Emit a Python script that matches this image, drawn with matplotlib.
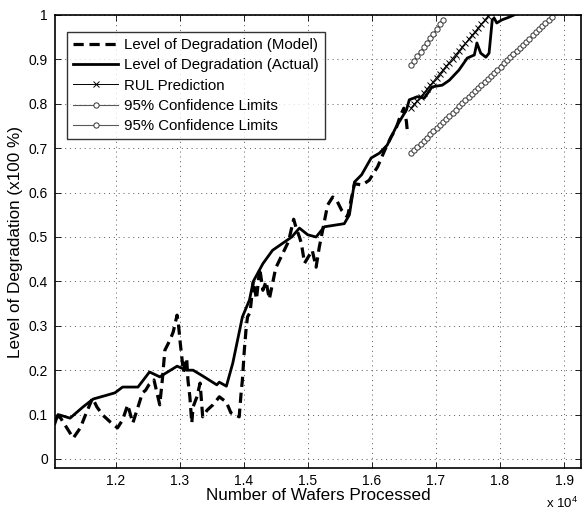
import matplotlib
matplotlib.use('Agg')
import matplotlib.pyplot as plt
from matplotlib.ticker import FixedLocator

plt.rcParams['font.family'] = ['Liberation Sans', 'DejaVu Sans']
plt.rcParams['mathtext.fontset'] = 'custom'
plt.rcParams['mathtext.rm'] = 'Liberation Sans'

# ---- data ----
actual_x = [11055, 11100, 11130, 11290, 11490, 11650, 11870, 11990, 12110, 12350,
            12530, 12690, 12960, 13110, 13210, 13360, 13580, 13620, 13730, 13830,
            13980, 14090, 14150, 14300, 14450, 14550, 14650, 14750, 14870, 15000,
            15130, 15260, 15570, 15650, 15730, 15840, 15990, 16120, 16240, 16380,
            16540, 16585, 16710, 16820, 16940, 17100, 17210, 17360, 17490, 17600,
            17640, 17700, 17780, 17830, 17880, 17910, 17950, 18030, 18140, 18220]
actual_y = [0.080, 0.100, 0.099, 0.092, 0.117, 0.135, 0.144, 0.149, 0.162, 0.162,
            0.196, 0.185, 0.209, 0.200, 0.200, 0.187, 0.167, 0.173, 0.164, 0.216,
            0.320, 0.358, 0.400, 0.440, 0.470, 0.480, 0.490, 0.500, 0.520, 0.505,
            0.500, 0.523, 0.530, 0.550, 0.624, 0.640, 0.678, 0.689, 0.707, 0.748,
            0.786, 0.809, 0.816, 0.813, 0.838, 0.842, 0.853, 0.876, 0.903, 0.910,
            0.937, 0.914, 0.905, 0.914, 0.989, 0.993, 0.982, 0.989, 0.995, 1.000]

model_x = [11055, 11100, 11130, 11240, 11340, 11450, 11530, 11640, 11710, 11800,
           11920, 12030, 12110, 12190, 12270, 12350, 12420, 12470, 12520, 12600,
           12690, 12730, 12770, 12850, 12900, 12960, 12980, 13010, 13060, 13110,
           13130, 13160, 13190, 13210, 13270, 13320, 13360, 13430, 13520, 13620,
           13730, 13800, 13930, 13960, 13980, 14010, 14040, 14060, 14100, 14150,
           14200, 14250, 14300, 14350, 14400, 14500, 14600, 14700, 14780, 14820,
           14870, 14900, 14950, 15070, 15130, 15180, 15310, 15390, 15450, 15530,
           15620, 15730, 15850, 15960, 16090, 16200, 16300, 16380, 16450, 16500,
           16540, 16560]
model_y = [0.090, 0.095, 0.095, 0.070, 0.047, 0.070, 0.099, 0.137, 0.117, 0.099,
           0.083, 0.070, 0.088, 0.122, 0.081, 0.117, 0.149, 0.155, 0.167, 0.178,
           0.122, 0.178, 0.245, 0.268, 0.286, 0.324, 0.306, 0.261, 0.196, 0.227,
           0.178, 0.140, 0.081, 0.117, 0.140, 0.171, 0.095, 0.110, 0.122, 0.140,
           0.128, 0.104, 0.095, 0.149, 0.178, 0.245, 0.297, 0.320, 0.330, 0.400,
           0.360, 0.430, 0.380, 0.400, 0.360, 0.430, 0.460, 0.490, 0.540, 0.520,
           0.500, 0.486, 0.441, 0.470, 0.432, 0.477, 0.572, 0.590, 0.583, 0.560,
           0.545, 0.620, 0.617, 0.628, 0.658, 0.695, 0.725, 0.745, 0.775, 0.790,
           0.760, 0.730]

rul_x = [16610, 16660, 16710, 16760, 16810, 16860, 16910, 16960, 17010, 17060,
         17110, 17160, 17210, 17260, 17310, 17360, 17410, 17460, 17510, 17560,
         17610, 17660, 17710, 17760, 17810, 17860]
rul_y = [0.790, 0.799, 0.807, 0.816, 0.824, 0.833, 0.842, 0.850, 0.859, 0.868,
         0.876, 0.885, 0.893, 0.902, 0.911, 0.919, 0.928, 0.936, 0.945, 0.954,
         0.962, 0.971, 0.980, 0.988, 0.997, 1.005]

upper_x = [16610, 16660, 16710, 16760, 16810, 16860, 16910, 16960, 17010, 17060, 17110]
upper_y = [0.887, 0.897, 0.907, 0.917, 0.928, 0.938, 0.948, 0.958, 0.968, 0.979, 0.989]

lower_x = [16610, 16660, 16710, 16760, 16810, 16860, 16910, 16960, 17010, 17060,
           17110, 17160, 17210, 17260, 17310, 17360, 17410, 17460, 17510, 17560,
           17610, 17660, 17710, 17760, 17810, 17860, 17910, 17960, 18010, 18060,
           18110, 18160, 18210, 18260, 18310, 18360, 18410, 18460, 18510, 18560,
           18610, 18660, 18710, 18760, 18810]
lower_y = [0.689, 0.696, 0.703, 0.710, 0.717, 0.724, 0.731, 0.738, 0.745, 0.752,
           0.759, 0.766, 0.773, 0.780, 0.787, 0.794, 0.801, 0.808, 0.815, 0.822,
           0.829, 0.836, 0.843, 0.850, 0.856, 0.863, 0.870, 0.877, 0.884, 0.891,
           0.898, 0.905, 0.912, 0.919, 0.926, 0.933, 0.940, 0.947, 0.954, 0.961,
           0.968, 0.975, 0.982, 0.989, 0.996]

x_ticks = [12000, 13000, 14000, 15000, 16000, 17000, 18000, 19000]
x_tick_labels = ['1.2', '1.3', '1.4', '1.5', '1.6', '1.7', '1.8', '1.9']
y_ticks = [0, 0.1, 0.2, 0.3, 0.4, 0.5, 0.6, 0.7, 0.8, 0.9, 1.0]
y_tick_labels = ['0', '0.1', '0.2', '0.3', '0.4', '0.5', '0.6', '0.7', '0.8', '0.9', '1']

# ---- figure ----
fig = plt.figure(figsize=(5.82, 5.12), dpi=100)
ax = fig.add_axes([55 / 582, 44 / 512, 526 / 582, 453 / 512])

ax.plot(model_x, model_y, color='k', lw=2.3, ls=(0, (3.2, 1.8)),
        label='Level of Degradation (Model)')
ax.plot(actual_x, actual_y, color='k', lw=2.0, label='Level of Degradation (Actual)')
ax.plot(rul_x, rul_y, color='k', lw=0.7, marker='x', ms=4.5, mew=0.7,
        label='RUL Prediction')
ax.plot(upper_x, upper_y, color='0.35', lw=0.8, marker='o', ms=3.8, mew=0.7,
        mfc='white', mec='0.2', label='95% Confidence Limits')
ax.plot(lower_x, lower_y, color='0.35', lw=0.8, marker='o', ms=3.8, mew=0.7,
        mfc='white', mec='0.2', label='95% Confidence Limits')

ax.set_xlim(11055, 19265)
ax.set_ylim(-0.0203, 1.0)
ax.xaxis.set_major_locator(FixedLocator(x_ticks))
ax.set_xticklabels(x_tick_labels)
ax.yaxis.set_major_locator(FixedLocator(y_ticks))
ax.set_yticklabels(y_tick_labels)

ax.tick_params(direction='in', length=4, width=0.6, top=True, right=True,
               labelsize=10)
ax.tick_params(axis='x', pad=4)
ax.tick_params(axis='y', pad=5)
ax.grid(True, ls=(0, (1, 4)), color='0.35', lw=0.7)
for s in ax.spines.values():
    s.set_linewidth(1.2)

ax.set_xlabel('Number of Wafers Processed', fontsize=12.3, labelpad=0)
ax.set_ylabel('Level of Degradation (x100 %)', fontsize=12.3, labelpad=4)
fig.text(546 / 582, 1 - 503 / 512, r'x 10$^4$', fontsize=9.5, va='center', ha='left')

leg = ax.legend(loc='upper left', bbox_to_anchor=(12 / 526, 1 - 17 / 453),
                fontsize=10.8, frameon=True, fancybox=False, edgecolor='k',
                borderpad=0.4, labelspacing=0.42, handlelength=3.0,
                handletextpad=0.4, borderaxespad=0.0)
leg.get_frame().set_linewidth(1.0)

fig.savefig('out.png', dpi=100)
